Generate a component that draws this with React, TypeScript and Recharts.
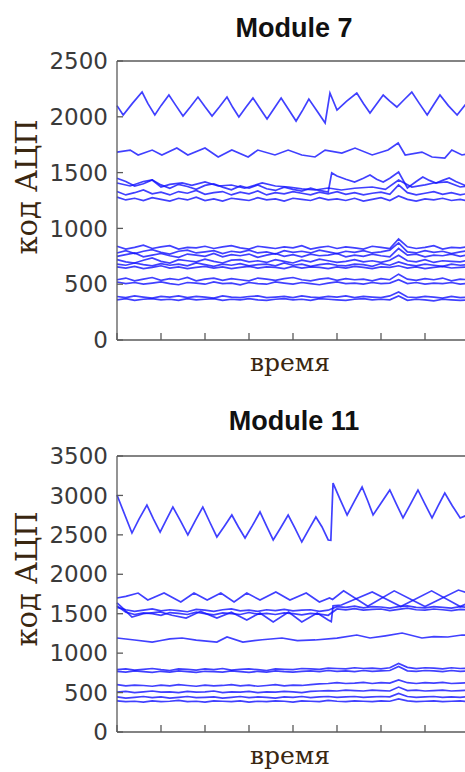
import { LineChart, Line, XAxis, YAxis, Label } from "recharts";

// time grid shared by the noisy, nearly flat channels
const gridT = [
  0, 2, 4, 6, 8, 10, 12, 14, 16, 18, 20, 22, 24, 26, 28, 30, 32, 34, 36, 38,
  40, 42, 44, 46, 48, 50, 52, 54, 56, 58, 60, 62, 64, 66, 68, 70, 72, 74, 76, 78, 80,
];
const xTicks = [0, 10, 20, 30, 40, 50, 60, 70, 80];
const m7Ticks = [0, 500, 1000, 1500, 2000, 2500];
const m11Ticks = [0, 500, 1000, 1500, 2000, 2500, 3000, 3500];

// ---- Module 7 ----
const m7Wave = [
  [0, 2100], [1.4, 2016], [3.5, 2120], [5.7, 2222], [7, 2120], [8.6, 2016], [10, 2100],
  [11.8, 2195], [13.4, 2100], [15, 2007], [16.7, 2090], [18.4, 2177], [20, 2090], [21.6, 2007],
  [23.3, 2090], [25, 2177], [26.3, 2085], [27.7, 1998], [29.3, 2085], [30.9, 2168], [32.5, 2075],
  [34.1, 1980], [35.7, 2075], [37.3, 2168], [39, 2065], [40.7, 1962], [42.2, 2060], [43.6, 2159],
  [45.5, 2050], [47.3, 1944], [48.4, 2213], [50, 2060], [52.2, 2140], [54.5, 2213], [56, 2120],
  [57.5, 2034], [59, 2115], [60.5, 2195], [62, 2140], [63.6, 2088], [65.3, 2155], [67, 2222],
  [68.7, 2120], [70.5, 2016], [72, 2110], [73.4, 2195], [75.3, 2100], [77.3, 2016], [80, 2150],
];
const m7Upper = [
  [0, 1684], [3, 1702], [4.8, 1658], [8, 1702], [10.2, 1658], [13.6, 1720], [16.1, 1658],
  [20, 1720], [23, 1640], [26.1, 1702], [29.8, 1640], [32, 1702], [35.9, 1658], [38.9, 1702],
  [42, 1658], [45, 1640], [47.3, 1702], [51.1, 1675], [54.1, 1720], [58, 1658], [61.6, 1702],
  [63.9, 1765], [65.5, 1658], [69.3, 1684], [71.6, 1640], [74.5, 1630], [76.1, 1702],
  [78.4, 1658], [80, 1670],
];
const m7Jump = [
  [0, 1450], [2, 1420], [4, 1380], [6, 1400], [8, 1435], [10, 1390], [12, 1360], [14, 1395],
  [16, 1375], [18, 1350], [20, 1385], [22, 1400], [24, 1370], [26, 1345], [28, 1380], [30, 1360],
  [32, 1390], [34, 1355], [36, 1340], [38, 1370], [40, 1350], [42, 1335], [44, 1360], [46, 1340],
  [48, 1326], [48.8, 1497], [50, 1470], [52, 1440], [54, 1416], [56, 1450], [57.5, 1478],
  [59, 1440], [60.5, 1416], [62, 1450], [64, 1505], [66, 1362], [68, 1420], [69.5, 1460],
  [71, 1430], [72.5, 1407], [74, 1430], [75.5, 1452], [77, 1420], [80, 1371],
];
const m7Mid = [
  [0, 1407], [3, 1380], [6, 1420], [8, 1434], [10, 1371], [12, 1395], [14.8, 1407], [17, 1385],
  [20, 1416], [23, 1380], [26, 1389], [29, 1360], [33, 1407], [36, 1380], [39, 1371], [42, 1355],
  [45, 1344], [48, 1362], [51, 1344], [54, 1360], [58, 1371], [61, 1350], [64, 1434], [67, 1371],
  [70, 1390], [72, 1407], [75, 1416], [78, 1371], [80, 1380],
];
const m7Ch1315 = [
  1330, 1300, 1320, 1345, 1310, 1325, 1300, 1330, 1315, 1340,
  1305, 1320, 1330, 1300, 1325, 1310, 1335, 1300, 1320, 1310,
  1330, 1315, 1300, 1325, 1310, 1330, 1305, 1320, 1300, 1315,
  1325, 1305, 1390, 1320, 1300, 1315, 1330, 1305, 1320, 1300, 1315,
];
const m7Ch1265 = [
  1280, 1255, 1270, 1250, 1275, 1260, 1245, 1270, 1255, 1280,
  1250, 1265, 1245, 1270, 1260, 1250, 1275, 1255, 1265, 1245,
  1270, 1260, 1250, 1275, 1255, 1265, 1250, 1270, 1245, 1260,
  1275, 1250, 1290, 1260, 1245, 1265, 1255, 1270, 1250, 1260, 1245,
];
const m7Ch825 = [
  840, 815, 830, 850, 820, 835, 845, 815, 830, 825,
  840, 820, 835, 845, 825, 815, 840, 830, 820, 835,
  825, 845, 815, 830, 840, 820, 835, 825, 815, 840,
  830, 820, 905, 835, 820, 830, 845, 815, 830, 825, 840,
];
const m7Ch790 = [
  780, 800, 775, 795, 810, 785, 770, 795, 805, 780,
  790, 800, 775, 795, 785, 805, 780, 790, 770, 800,
  785, 795, 780, 805, 790, 775, 795, 785, 800, 780,
  790, 805, 870, 790, 780, 800, 785, 795, 775, 790, 800,
];
const m7Ch760 = [
  750, 765, 780, 745, 760, 775, 755, 740, 770, 760,
  750, 775, 745, 765, 755, 770, 740, 760, 775, 750,
  765, 745, 770, 755, 760, 775, 745, 760, 750, 770,
  755, 745, 820, 760, 770, 745, 760, 755, 770, 750, 765,
];
const m7Ch715 = [
  720, 700, 690, 715, 735, 705, 690, 720, 710, 700,
  725, 705, 690, 715, 720, 700, 710, 695, 720, 705,
  690, 715, 700, 725, 710, 695, 705, 720, 700, 710,
  695, 715, 760, 710, 700, 720, 695, 710, 705, 700, 715,
];
const m7Ch680 = [
  680, 670, 690, 675, 665, 685, 670, 680, 665, 690,
  675, 660, 680, 670, 685, 665, 675, 680, 665, 690,
  670, 680, 660, 675, 685, 670, 665, 680, 675, 660,
  685, 670, 700, 675, 665, 680, 670, 660, 680, 670, 675,
];
const m7Ch650 = [
  655, 645, 660, 640, 650, 665, 645, 655, 640, 650,
  660, 645, 655, 640, 650, 660, 645, 655, 650, 640,
  660, 645, 655, 650, 640, 655, 645, 660, 650, 640,
  655, 650, 665, 645, 655, 640, 650, 660, 645, 650, 655,
];
const m7Ch545 = [
  540, 555, 530, 545, 560, 535, 550, 540, 560, 530,
  545, 555, 535, 550, 540, 530, 555, 545, 535, 550,
  560, 540, 530, 545, 555, 535, 550, 540, 545, 530,
  550, 540, 590, 545, 535, 550, 540, 555, 530, 545, 540,
];
const m7Ch510 = [
  520, 505, 515, 500, 510, 520, 505, 495, 515, 510,
  500, 520, 505, 510, 495, 515, 505, 500, 520, 510,
  500, 515, 505, 495, 510, 520, 505, 510, 500, 515,
  505, 510, 540, 505, 515, 500, 510, 505, 515, 500, 510,
];
const m7Ch385 = [
  390, 380, 395, 385, 375, 390, 385, 395, 380, 390,
  385, 375, 395, 385, 380, 390, 395, 380, 385, 390,
  380, 395, 385, 380, 390, 385, 395, 380, 390, 385,
  380, 395, 430, 385, 380, 390, 385, 375, 390, 380, 385,
];
const m7Ch365 = [
  360, 370, 355, 365, 370, 360, 365, 355, 370, 360,
  365, 370, 355, 365, 360, 370, 360, 355, 365, 370,
  360, 365, 355, 370, 365, 360, 355, 365, 370, 360,
  365, 360, 395, 355, 365, 360, 350, 365, 360, 355, 360,
];

// ---- Module 11 ----
const m11Wave = [
  [0, 3005], [3.4, 2523], [5, 2700], [6.8, 2878], [8.3, 2700], [9.8, 2536], [11.2, 2690],
  [12.7, 2853], [14.4, 2680], [16.1, 2498], [17.8, 2680], [19.5, 2853], [21.1, 2660],
  [22.7, 2473], [24.4, 2610], [26.1, 2752], [27.6, 2600], [29.1, 2460], [30.8, 2620],
  [32.5, 2790], [34, 2610], [35.5, 2435], [37.2, 2590], [38.9, 2752], [40.5, 2580], [42, 2409],
  [43.6, 2570], [45.2, 2726], [46.6, 2600], [48, 2435], [48.6, 2430], [49.1, 3157], [50.7, 2950],
  [52.3, 2752], [54, 2930], [55.7, 3107], [57, 2930], [58.2, 2752], [60.1, 2910], [62, 3069],
  [63.5, 2890], [65, 2714], [66.7, 2890], [68.4, 3069], [70, 2890], [71.6, 2714], [73, 2870],
  [74.5, 3031], [76.2, 2870], [78, 2714], [80, 2760],
];
const m11Upper = [
  [0, 1699], [2, 1720], [4.8, 1762], [7, 1674], [10.7, 1762], [14.5, 1648], [17.5, 1762],
  [20.5, 1674], [23.6, 1762], [26.6, 1648], [29.5, 1762], [32.5, 1674], [36.1, 1775],
  [39.3, 1674], [43, 1762], [46, 1648], [48.3, 1700], [49, 1680], [51.5, 1790], [57, 1595],
  [63, 1790], [70, 1590], [77.6, 1800], [80, 1760],
];
const m11Dip = [
  [0, 1636], [1.5, 1560], [3.4, 1458], [6, 1500], [9.8, 1522], [12.5, 1480], [15.7, 1445],
  [19, 1530], [22.7, 1445], [26, 1520], [29.5, 1420], [32.5, 1510], [35.5, 1395], [39, 1520],
  [42, 1395], [45.5, 1510], [48, 1420], [48.7, 1400], [49.1, 1600], [51, 1610], [58, 1775],
  [64.5, 1590], [71.5, 1790], [78, 1590], [80, 1640],
];
const m11Ch1200 = [
  [0, 1192], [4, 1167], [8, 1141], [10, 1160], [12, 1180], [14.8, 1192], [18, 1165],
  [22.7, 1141], [25, 1205], [28.6, 1141], [33, 1170], [37.5, 1192], [41, 1160], [45, 1167],
  [50, 1190], [54.5, 1230], [57.5, 1192], [61, 1220], [64.8, 1255], [69.3, 1192], [72, 1210],
  [75.2, 1205], [78.4, 1230], [80, 1225],
];
const m11Ch1550 = [
  1580, 1550, 1530, 1545, 1560, 1535, 1550, 1540, 1525, 1555,
  1545, 1530, 1550, 1560, 1535, 1545, 1530, 1550, 1540, 1555,
  1535, 1545, 1550, 1530, 1545, 1590, 1580, 1595, 1575, 1590,
  1585, 1570, 1590, 1600, 1580, 1575, 1590, 1580, 1570, 1590, 1580,
];
const m11Ch1510 = [
  1600, 1520, 1490, 1510, 1500, 1480, 1515, 1505, 1490, 1520,
  1500, 1485, 1510, 1500, 1490, 1515, 1495, 1505, 1490, 1510,
  1500, 1485, 1505, 1495, 1480, 1560, 1550, 1565, 1545, 1555,
  1560, 1540, 1555, 1570, 1550, 1545, 1560, 1550, 1540, 1555, 1550,
];
const m11Ch800 = [
  790, 800, 785, 795, 805, 790, 780, 800, 795, 785,
  800, 790, 805, 785, 795, 800, 790, 780, 800, 795,
  790, 805, 800, 795, 810, 805, 800, 815, 805, 810,
  800, 815, 870, 820, 805, 815, 810, 800, 815, 805, 810,
];
const m11Ch765 = [
  770, 760, 775, 765, 755, 770, 760, 775, 765, 755,
  770, 765, 760, 775, 765, 755, 770, 760, 775, 765,
  760, 770, 775, 765, 780, 770, 775, 765, 780, 770,
  775, 780, 830, 775, 770, 780, 775, 765, 780, 770, 775,
];
const m11Ch600 = [
  600, 585, 595, 590, 580, 595, 585, 600, 590, 580,
  595, 585, 590, 600, 585, 595, 580, 590, 600, 585,
  595, 590, 600, 610, 615, 625, 615, 620, 630, 615,
  625, 620, 660, 625, 615, 625, 620, 630, 615, 620, 625,
];
const m11Ch515 = [
  505, 515, 500, 510, 520, 505, 510, 500, 515, 505,
  510, 520, 500, 510, 505, 515, 500, 510, 505, 515,
  510, 500, 515, 520, 525, 520, 530, 525, 520, 530,
  525, 520, 570, 525, 530, 520, 525, 530, 520, 525, 530,
];
const m11Ch440 = [
  445, 430, 440, 450, 435, 445, 430, 440, 450, 435,
  440, 445, 430, 440, 450, 435, 445, 440, 430, 445,
  440, 450, 435, 445, 450, 440, 445, 450, 440, 445,
  450, 445, 490, 450, 440, 445, 450, 440, 445, 440, 450,
];
const m11Ch390 = [
  395, 385, 390, 380, 395, 385, 390, 400, 385, 390,
  380, 395, 390, 385, 395, 380, 390, 385, 395, 390,
  380, 395, 390, 385, 400, 390, 385, 395, 390, 385,
  395, 390, 420, 395, 385, 390, 395, 385, 390, 395, 385,
];

type Pt = { t: number; v: number };
const fromPairs = (p: number[][]): Pt[] => p.map(([t, v]) => ({ t, v }));
const fromGrid = (vs: number[]): Pt[] => vs.map((v, i) => ({ t: gridT[i], v }));

const module7 = [
  fromPairs(m7Wave), fromPairs(m7Upper), fromPairs(m7Jump), fromPairs(m7Mid),
  fromGrid(m7Ch1315), fromGrid(m7Ch1265), fromGrid(m7Ch825), fromGrid(m7Ch790),
  fromGrid(m7Ch760), fromGrid(m7Ch715), fromGrid(m7Ch680), fromGrid(m7Ch650),
  fromGrid(m7Ch545), fromGrid(m7Ch510), fromGrid(m7Ch385), fromGrid(m7Ch365),
];
const module11 = [
  fromPairs(m11Wave), fromPairs(m11Upper), fromPairs(m11Dip), fromPairs(m11Ch1200),
  fromGrid(m11Ch1550), fromGrid(m11Ch1510), fromGrid(m11Ch800), fromGrid(m11Ch765),
  fromGrid(m11Ch600), fromGrid(m11Ch515), fromGrid(m11Ch440), fromGrid(m11Ch390),
];

const AXIS = "#5a5a5a";
const LABEL = "#3a2710";
const tickFont = { fontFamily: "DejaVu Sans", fontSize: 23, fill: "#3a3a3a" };
const blank = () => "";

type PanelProps = {
  title: string;
  series: Pt[][];
  yMax: number;
  yTicks: number[];
  height: number;
  marginTop: number;
  marginBottom: number;
  titleY: number;
  xLabelY: number;
  yLabelY: number;
};

function Panel({ title, series, yMax, yTicks, height, marginTop, marginBottom, titleY, xLabelY, yLabelY }: PanelProps) {
  return (
    <LineChart width={480} height={height} margin={{ top: marginTop, right: 10, bottom: marginBottom, left: 0 }}>
      <XAxis
        dataKey="t"
        type="number"
        domain={[0, 80]}
        ticks={xTicks}
        tickFormatter={blank}
        tickSize={-7}
        height={30}
        axisLine={{ stroke: AXIS, strokeWidth: 1.3 }}
        tickLine={{ stroke: AXIS, strokeWidth: 1.3 }}
      >
        <Label
          content={() => (
            <text x={290} y={xLabelY} textAnchor="middle" fontFamily="DejaVu Serif" fontSize={25} fill={LABEL}>
              время
            </text>
          )}
        />
      </XAxis>
      <XAxis
        xAxisId="top"
        orientation="top"
        dataKey="t"
        type="number"
        domain={[0, 80]}
        ticks={xTicks}
        tickFormatter={blank}
        tickSize={-7}
        height={1}
        axisLine={{ stroke: AXIS, strokeWidth: 1.3 }}
        tickLine={{ stroke: AXIS, strokeWidth: 1.3 }}
      >
        <Label
          content={() => (
            <text x={294} y={titleY} textAnchor="middle" fontFamily="Liberation Sans" fontWeight="bold" fontSize={27} fill="#111">
              {title}
            </text>
          )}
        />
      </XAxis>
      <YAxis
        type="number"
        domain={[0, yMax]}
        ticks={yTicks}
        width={117}
        tickSize={-6}
        tickMargin={15}
        tick={tickFont}
        axisLine={{ stroke: AXIS, strokeWidth: 1.3 }}
        tickLine={{ stroke: AXIS, strokeWidth: 1.3 }}
      >
        <Label
          content={() => (
            <text
              x={37}
              y={yLabelY}
              transform={`rotate(-90, 37, ${yLabelY})`}
              textAnchor="middle"
              fontFamily="DejaVu Serif"
              fontSize={29}
              fill={LABEL}
            >
              код АЦП
            </text>
          )}
        />
      </YAxis>
      <YAxis
        yAxisId="right"
        orientation="right"
        type="number"
        domain={[0, yMax]}
        ticks={yTicks}
        width={1}
        tickSize={-6}
        tickFormatter={blank}
        axisLine={{ stroke: AXIS, strokeWidth: 1.3 }}
        tickLine={{ stroke: AXIS, strokeWidth: 1.3 }}
      />
      {series.map((pts, i) => (
        <Line
          key={i}
          data={pts}
          dataKey="v"
          type="linear"
          stroke="#1010ff"
          strokeOpacity={0.8}
          strokeWidth={1.7}
          dot={false}
          isAnimationActive={false}
        />
      ))}
    </LineChart>
  );
}

export default function App() {
  return (
    <div style={{ position: "fixed", left: 0, top: 0, width: 465, height: 772, overflow: "hidden", background: "#fff" }}>
      <div style={{ position: "absolute", left: 0, top: 0 }}>
        <Panel
          title="Module 7"
          series={module7}
          yMax={2500}
          yTicks={m7Ticks}
          height={390}
          marginTop={60}
          marginBottom={20}
          titleY={37}
          xLabelY={371}
          yLabelY={187}
        />
      </div>
      <div style={{ position: "absolute", left: 0, top: 390 }}>
        <Panel
          title="Module 11"
          series={module11}
          yMax={3500}
          yTicks={m11Ticks}
          height={382}
          marginTop={65}
          marginBottom={10}
          titleY={40}
          xLabelY={374}
          yLabelY={189}
        />
      </div>
    </div>
  );
}
